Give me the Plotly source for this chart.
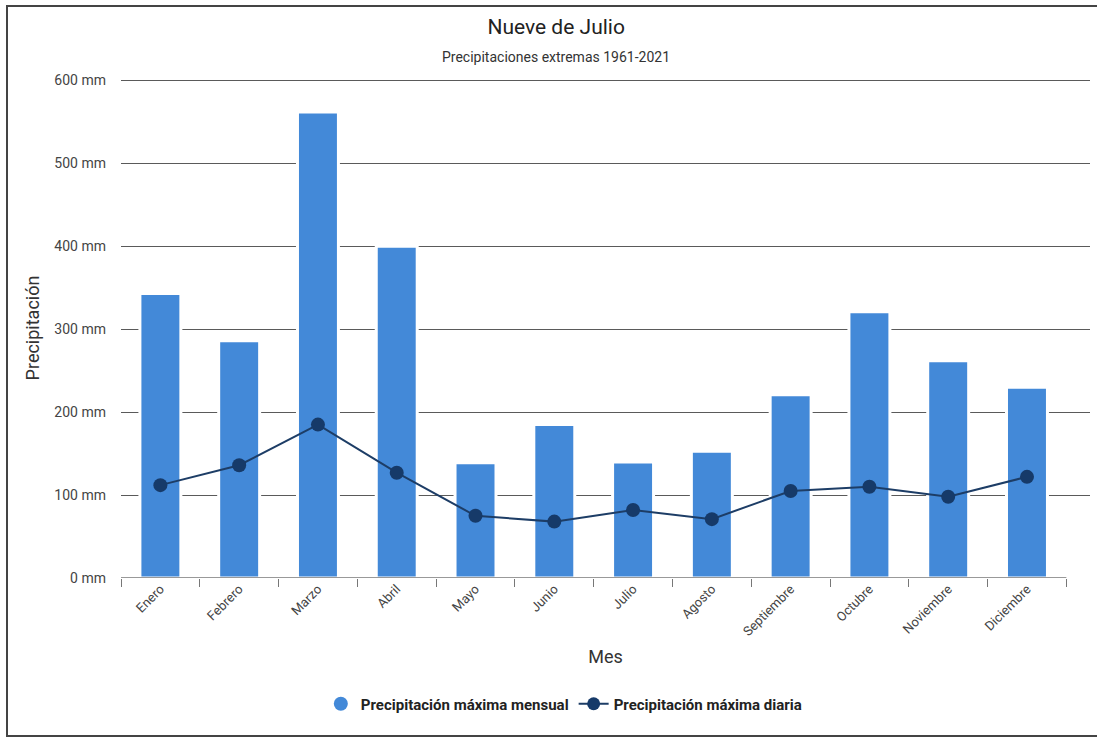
import plotly.graph_objects as go

meses = ["Enero", "Febrero", "Marzo", "Abril", "Mayo", "Junio", "Julio",
         "Agosto", "Septiembre", "Octubre", "Noviembre", "Diciembre"]
max_mensual = [343, 286, 562, 400, 139, 185, 140, 153, 221, 321, 262, 230]
max_diaria = [112, 136, 185, 127, 75, 68, 82, 71, 105, 110, 98, 122]
y_ticks = [0, 100, 200, 300, 400, 500, 600]
y_ticktext = [f"{v} mm" for v in y_ticks]

BAR = "#4389d8"
LINE = "#1d3d66"
DOT = "#163a69"
FONT = "Roboto"

fig = go.Figure()
fig.add_trace(go.Bar(
    x=meses, y=max_mensual, name="Precipitación máxima mensual",
    marker=dict(color=BAR, line=dict(color="white", width=3)),
    width=0.52, showlegend=False,
))
fig.add_trace(go.Scatter(
    x=meses, y=max_diaria, name="Precipitación máxima diaria",
    mode="lines+markers", line=dict(color=LINE, width=2),
    marker=dict(color=DOT, size=14), showlegend=False,
))
# legend entries
fig.add_trace(go.Scatter(
    x=[None], y=[None], mode="markers", name="Precipitación máxima mensual",
    marker=dict(color=BAR, size=14, symbol="circle"),
))
fig.add_trace(go.Scatter(
    x=[None], y=[None], mode="lines+markers", name="Precipitación máxima diaria",
    line=dict(color=LINE, width=2), marker=dict(color=DOT, size=13),
))

PH = 500  # plot height in px
fig.update_layout(
    width=1097, height=738,
    margin=dict(l=121, r=7, t=78, b=160),
    paper_bgcolor="white", plot_bgcolor="white",
    font=dict(family=FONT, color="#444"),
    title=dict(text="Nueve de Julio", x=0.507, xref="container", xanchor="center",
               y=1 - 27 / 738, yref="container", yanchor="middle",
               font=dict(size=21, color="#222", family=FONT)),
    legend=dict(orientation="h", x=0.457, xref="paper", xanchor="center",
                y=-(704 - 578) / PH, yanchor="middle",
                font=dict(size=15, color="#222", family=FONT, weight="bold"),
                itemwidth=30, tracegroupgap=0),
    showlegend=True,
    bargap=0.48,
)
fig.add_annotation(text="Precipitaciones extremas 1961-2021", xref="paper", yref="paper",
                   x=(556 - 121) / 969, y=(578 - 57) / PH, showarrow=False,
                   xanchor="center", yanchor="middle",
                   font=dict(size=14, color="#333", family=FONT))

fig.update_xaxes(
    type="category", range=[-0.5, 11.8], tickson="boundaries",
    ticks="outside", ticklen=8, tickcolor="#777", tickwidth=1,
    showline=False, showgrid=False, tickangle=-45,
    tickfont=dict(size=13, color="#444", family=FONT),
    title=dict(text="Mes", font=dict(size=18, color="#333", family=FONT), standoff=12),
)
fig.update_yaxes(
    range=[0, 603], tickvals=y_ticks, ticktext=y_ticktext,
    showgrid=True, gridcolor="#5a5a5a", gridwidth=1, zeroline=False,
    showline=False, ticks="", ticklabelstandoff=14,
    tickfont=dict(size=14, color="#444", family=FONT),
    title=dict(text="Precipitación", font=dict(size=18, color="#333", family=FONT), standoff=10),
)
# x axis baseline (ends at last category boundary)
fig.add_shape(type="line", xref="x", yref="y", x0=-0.5, x1=11.5, y0=0, y1=0,
              line=dict(color="#777", width=1.5), layer="above")
# outer frame
fig.add_shape(type="rect", xref="paper", yref="paper",
              x0=(7 - 121) / 969, x1=(1110 - 121) / 969,
              y0=(578 - 736) / PH, y1=(578 - 6) / PH,
              line=dict(color="#444", width=2), fillcolor="rgba(0,0,0,0)", layer="above")

fig.write_html("out.html", config={"displayModeBar": False},
               post_script="document.body.style.margin='0';")
